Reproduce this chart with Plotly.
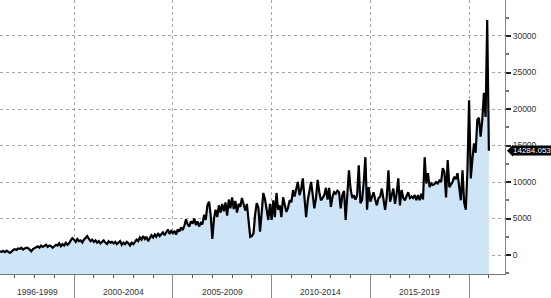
import pandas as pd
import plotly.graph_objects as go

# Monthly values, Apr 1996 .. Feb 2021
v1996 = [500, 450, 550, 400, 600, 500, 300, 450, 700]
v1997 = [800, 700, 900, 850, 1000, 750, 900, 1000, 950, 700, 500, 800]
v1998 = [900, 1100, 1200, 1000, 1300, 1100, 1200, 1400, 1100, 1300, 1200, 1000]
v1999 = [1200, 1400, 1300, 1600, 1200, 1500, 1300, 1700, 1400, 1600, 2000, 2300]
v2000 = [2100, 1800, 2200, 1900, 2000, 1700, 2100, 2300, 2600, 2200, 1900, 2100]
v2001 = [1800, 2000, 1700, 1900, 1600, 1800, 2000, 1700, 1500, 1900, 1700, 1800]
v2002 = [1600, 1800, 1500, 1700, 1900, 1400, 1700, 1500, 1800, 1600, 1300, 1700]
v2003 = [1500, 1800, 2100, 1900, 2400, 2100, 2600, 2200, 2500, 1900, 2300, 2700]
v2004 = [2400, 2800, 2500, 3000, 2600, 2800, 3100, 2700, 3200, 3500, 2900, 3300]
v2005 = [3000, 3300, 2800, 3500, 3200, 3800, 3400, 4000, 4900, 4200, 3900, 4600]
v2006 = [4300, 5000, 4100, 4600, 3900, 4400, 4200, 5500, 4800, 6800, 7300, 5500]
v2007 = [2200, 5000, 6200, 5200, 6800, 5800, 7000, 6000, 7200, 5400, 7600, 6400]
v2008 = [7900, 6300, 7400, 5800, 7000, 6600, 7800, 6900, 6100, 7000, 4400, 2500]
v2009 = [2600, 3000, 5500, 7100, 6500, 3200, 5800, 8500, 7600, 6000, 4800, 7000]
v2010 = [4800, 7500, 5200, 8500, 6200, 6800, 5200, 7900, 6800, 5900, 6500, 7500]
v2011 = [7200, 8900, 8000, 9200, 10000, 8200, 9000, 10500, 7800, 5200, 7500, 8500]
v2012 = [10000, 8200, 6400, 7800, 10300, 8600, 7500, 7800, 8200, 9200, 7600, 9200]
v2013 = [6600, 8000, 8600, 8400, 8800, 8600, 6400, 8200, 8800, 4800, 8500, 11600]
v2014 = [9000, 7800, 8200, 7600, 8200, 12300, 7100, 7500, 10000, 13400, 6200, 9300]
v2015 = [7300, 8200, 8600, 7600, 6800, 7800, 8000, 9100, 7500, 6200, 8000, 11600]
v2016 = [7300, 8500, 9100, 7000, 8400, 10500, 6800, 8900, 7800, 7500, 8200, 8600]
v2017 = [7800, 8000, 7800, 8200, 7500, 8200, 7500, 8400, 7600, 13400, 9800, 11200]
v2018 = [9300, 9800, 9600, 9700, 10000, 9800, 10200, 10000, 11900, 11400, 7900, 13000]
v2019 = [9300, 9600, 10000, 10700, 10400, 11200, 8900, 7500, 11600, 7200, 6200, 11500]
v2020 = [21200, 10500, 13000, 15300, 14000, 18500, 18800, 16200, 18500, 22200, 18900, 32200]
v2021 = [14284.053]

values = (v1996 + v1997 + v1998 + v1999 + v2000 + v2001 + v2002 + v2003 + v2004
          + v2005 + v2006 + v2007 + v2008 + v2009 + v2010 + v2011 + v2012 + v2013
          + v2014 + v2015 + v2016 + v2017 + v2018 + v2019 + v2020 + v2021)
dates = pd.date_range("1996-04-01", periods=len(values), freq="MS")

period_labels = ["1996-1999", "2000-2004", "2005-2009", "2010-2014", "2015-2019"]
period_centers = ["1998-02-15", "2002-07-01", "2007-07-01", "2012-07-01", "2017-07-01"]
boundaries = ["2000-01-01", "2005-01-01", "2010-01-01", "2015-01-01", "2020-01-01"]
y_ticks = [0, 5000, 10000, 15000, 20000, 25000, 30000]
y_tick_labels = ["0", "5000", "10000", "15000", "20000", "25000", "30000"]
y_min, y_max = -2600, 34930
last_label = "14284.053"

fig = go.Figure()
fig.add_trace(go.Scatter(x=dates, y=[y_min] * len(values), mode="lines",
                         line=dict(width=0, color="rgba(0,0,0,0)"),
                         hoverinfo="skip", showlegend=False))
fig.add_trace(go.Scatter(x=dates, y=values, mode="lines", fill="tonexty",
                         fillcolor="rgb(206,229,247)",
                         line=dict(color="black", width=2.2), showlegend=False))

fig.update_xaxes(
    type="date", range=["1996-04-01", "2021-10-26"],
    tickvals=boundaries, ticktext=[""] * len(boundaries),
    ticks="outside", ticklen=24, tickcolor="#8a8a8a", tickwidth=1,
    showgrid=True, gridcolor="#a8a8a8", griddash="dot", gridwidth=1,
    showline=True, linecolor="#777", linewidth=1,
    minor=dict(dtick="M12", tick0="1997-01-01", ticks="outside", ticklen=3,
               tickcolor="#555", showgrid=False),
    zeroline=False, fixedrange=True,
)
fig.update_yaxes(
    side="right", range=[y_min, y_max], tickvals=y_ticks, ticktext=y_tick_labels,
    ticks="outside", ticklen=5, tickwidth=2, tickcolor="#222",
    showgrid=True, gridcolor="#a8a8a8", griddash="dot", gridwidth=1,
    showline=True, linecolor="#888", linewidth=1,
    minor=dict(dtick=2500, ticks="outside", ticklen=3, tickcolor="#777", showgrid=False),
    tickfont=dict(family="Liberation Sans", size=8.5, color="#333"),
    zeroline=False, fixedrange=True,
)

for lab, c in zip(period_labels, period_centers):
    fig.add_annotation(x=c, xref="x", y=0, yref="paper", yshift=-18,
                       text=lab, showarrow=False, yanchor="middle",
                       font=dict(family="Liberation Sans", size=8.5, color="#333"))

fig.add_annotation(x=1, xref="paper", y=values[-1], yref="y", xshift=7,
                   xanchor="left", yanchor="middle", text=last_label, showarrow=False,
                   bgcolor="black", borderpad=0,
                   font=dict(family="Liberation Sans", size=8, color="white"))
fig.add_shape(type="path", xref="paper", yref="y", xsizemode="pixel", ysizemode="pixel",
              xanchor=1, yanchor=values[-1],
              path="M 2,0 L 8,6 L 8,-6 Z", fillcolor="black", line=dict(width=0))

fig.update_layout(
    width=551, height=298, margin=dict(l=0, r=46, t=0, b=24),
    plot_bgcolor="white", paper_bgcolor="white", showlegend=False,
)
fig.write_html("out.html")
